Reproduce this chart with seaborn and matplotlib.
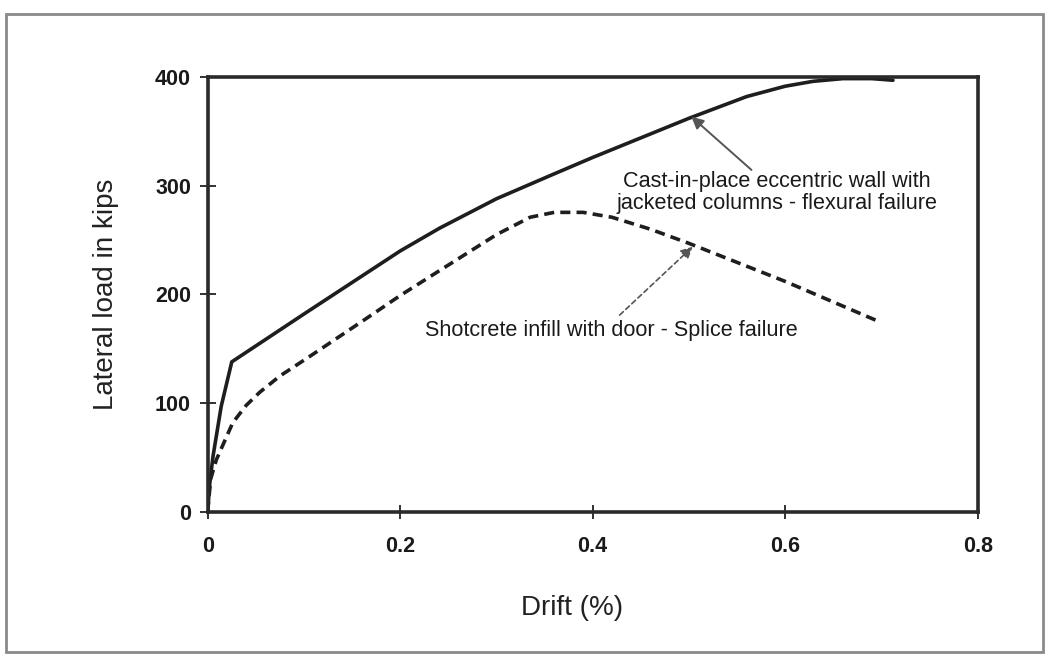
import matplotlib
matplotlib.use("Agg")
import matplotlib.pyplot as plt
import matplotlib.patches as mpatches
import seaborn as sns
import pandas as pd

# Data
wall_drift = [0.0, 0.002, 0.0055, 0.014, 0.025, 0.1, 0.2, 0.241, 0.3, 0.355,
              0.4, 0.45, 0.5, 0.56, 0.6, 0.629, 0.66, 0.69, 0.712]
wall_load = [0.0, 25, 51, 97, 138, 182, 240, 261, 288, 309,
             326, 344, 362, 382, 391.5, 396, 398.5, 398.5, 397]

door_drift = [0.0, 0.003, 0.009, 0.026, 0.04, 0.054, 0.075, 0.106, 0.165, 0.2,
              0.241, 0.3, 0.335, 0.36, 0.39, 0.42, 0.46, 0.5, 0.6, 0.695]
door_load = [0.0, 30, 48, 82, 98, 110, 125, 143, 178, 199,
             222, 255, 271, 275.5, 275.5, 271, 260, 247, 212, 176]

series_names = ["Cast-in-place eccentric wall with\njacketed columns - flexural failure",
                "Shotcrete infill with door - Splice failure"]

x_ticks = [0, 0.2, 0.4, 0.6, 0.8]
x_tick_labels = ["0", "0.2", "0.4", "0.6", "0.8"]
y_ticks = [0, 100, 200, 300, 400]

df = pd.concat([
    pd.DataFrame({"drift": wall_drift, "load": wall_load, "series": series_names[0]}),
    pd.DataFrame({"drift": door_drift, "load": door_load, "series": series_names[1]}),
])

sns.set_theme(style="white")
plt.rcParams["font.family"] = ["Liberation Sans", "DejaVu Sans"]

fig = plt.figure(figsize=(10.49, 6.58), dpi=100)
ax = fig.add_axes([0.198, 0.222, 0.734, 0.661])

sns.lineplot(data=df[df.series == series_names[0]], x="drift", y="load", ax=ax,
             color="#1e1e1e", linewidth=2.6, sort=False, estimator=None)
sns.lineplot(data=df[df.series == series_names[1]], x="drift", y="load", ax=ax,
             color="#1e1e1e", linewidth=2.6, sort=False, estimator=None,
             linestyle=(0, (2.8, 1.7)))

ax.set_xlim(0, 0.8)
ax.set_ylim(0, 400)
ax.set_xticks(x_ticks)
ax.set_xticklabels(x_tick_labels)
ax.set_yticks(y_ticks)
for s in ax.spines.values():
    s.set_linewidth(2.6)
    s.set_color("#2a2a2a")
ax.tick_params(axis="both", which="major", left=True, bottom=True,
               direction="inout", width=1.4, color="#333333",
               labelsize=15.5, labelcolor="#1a1a1a")
ax.tick_params(axis="y", length=12, pad=6)
ax.tick_params(axis="x", length=10, pad=12)
ax.set_xlabel("Drift (%)", fontsize=20, color="#222222")
ax.set_ylabel("Lateral load in kips", fontsize=20, color="#222222", labelpad=26)
ax.xaxis.set_label_coords(0.473, -0.192)
for lab in ax.get_xticklabels() + ax.get_yticklabels():
    lab.set_fontweight("bold")

# Annotations
ax.text(0.591, 294, series_names[0], ha="center", va="center", fontsize=15.6,
        color="#1a1a1a", linespacing=1.05)
ax.annotate("", xy=(0.5025, 363.5), xytext=(0.565, 314.5),
            arrowprops=dict(arrowstyle="-|>", color="#555555", lw=1.4,
                            shrinkA=0, shrinkB=0, mutation_scale=18))
ax.text(0.419, 167, series_names[1], ha="center", va="center", fontsize=15.6,
        color="#1a1a1a")
ax.annotate("", xy=(0.504, 244), xytext=(0.428, 181),
            arrowprops=dict(arrowstyle="-|>", color="#555555", lw=1.2,
                            linestyle=(0, (3, 2)),
                            shrinkA=0, shrinkB=0, mutation_scale=18))

# Outer frame of the figure
frame = mpatches.Rectangle((6 / 1049, 6 / 658), 1037 / 1049, 638 / 658,
                           transform=fig.transFigure, fill=False,
                           edgecolor="#8a8a8a", linewidth=2.0)
fig.patches.append(frame)

fig.savefig("out.png", dpi=100)
